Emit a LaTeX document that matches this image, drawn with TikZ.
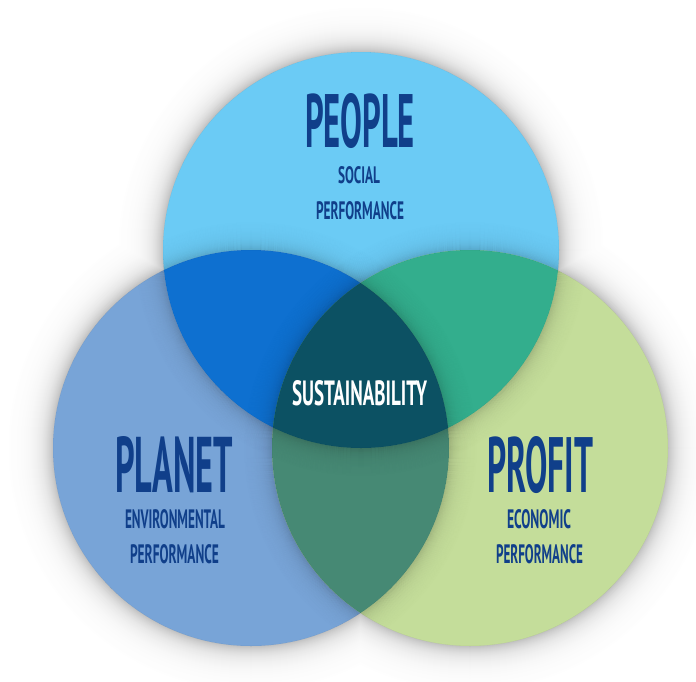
\documentclass[tikz,border=0pt]{standalone}
\usepackage{fontspec}
\setmainfont{PT Sans}
\usepackage{graphicx}
\definecolor{cT}{HTML}{6BCBF5}
\definecolor{cL}{HTML}{78A4D7}
\definecolor{cR}{HTML}{C4DD9A}
\definecolor{cTL}{HTML}{0E70D0}
\definecolor{cTR}{HTML}{33AE8D}
\definecolor{cLR}{HTML}{468974}
\definecolor{cC}{HTML}{0C5163}
\definecolor{txtblue}{HTML}{103F8A}
\newcommand{\fittext}[3]{\resizebox{#1pt}{#2pt}{\bfseries #3}}
\tikzset{
  lbl/.style={inner sep=0pt, outer sep=0pt, text=txtblue, anchor=center},
}
\begin{document}
\begin{tikzpicture}[x=1pt,y=-1pt]
\useasboundingbox (0,0) rectangle (696,681);
\fill[white] (0,0) rectangle (696,681);
\coordinate (T) at (361,250);
\coordinate (L) at (251,448);
\coordinate (R) at (470,448);
% outer soft shadow
\foreach \d in {44,43,...,1}{
  \pgfmathsetmacro\g{100-26*exp(-\d/11)}
  \fill[white!\g!black] (T) circle ({(198+\d)*1pt}) (L) circle ({(198+\d)*1pt}) (R) circle ({(198+\d)*1pt});
}
% base circles
\fill[cT] (T) circle (198pt);
\fill[cL] (L) circle (198pt);
\fill[cR] (R) circle (198pt);
% pairwise overlaps
\begin{scope}
  \clip (T) circle (198pt);
  \fill[cTL] (L) circle (198pt);
  \fill[cTR] (R) circle (198pt);
\end{scope}
\begin{scope}
  \clip (L) circle (198pt);
  \fill[cLR] (R) circle (198pt);
\end{scope}
% centre
\begin{scope}
  \clip (T) circle (198pt);
  \clip (L) circle (198pt);
  \fill[cC] (R) circle (198pt);
\end{scope}
% inner shadows cast by each circle onto the others
\begin{scope}
  \clip (T) circle (198pt) (L) circle (198pt) (R) circle (198pt);
  \foreach \c in {T,L,R}{
    \foreach \d in {1,...,28}{
      \pgfmathsetmacro\op{0.16*exp(-\d/8)}
      \draw[black, draw opacity=\op, line width=1.05pt] (\c) circle ({(198+\d-0.5)*1pt});
    }
  }
\end{scope}
% labels
\node[lbl] (people) at (360,121) {\fittext{110}{54}{PEOPLE}};
\node[lbl] (social) at (359,175) {\fittext{42}{17}{SOCIAL}};
\node[lbl] (perf1) at (360,211) {\fittext{88}{18}{PERFORMANCE}};
\node[lbl, text=white] (sust) at (359.5,393.5) {\fittext{135}{25}{SUSTAINABILITY}};
\node[lbl] (planet) at (174,465) {\fittext{118}{56}{PLANET}};
\node[lbl] (env) at (175,519.5) {\fittext{100}{19}{ENVIRONMENTAL}};
\node[lbl] (perf2) at (174.5,554) {\fittext{89}{19}{PERFORMANCE}};
\node[lbl] (profit) at (540,465) {\fittext{106}{56}{PROFIT}};
\node[lbl] (eco) at (539,519) {\fittext{64}{19}{ECONOMIC}};
\node[lbl] (perf3) at (539.5,554.5) {\fittext{87}{19}{PERFORMANCE}};
\end{tikzpicture}
\end{document}
